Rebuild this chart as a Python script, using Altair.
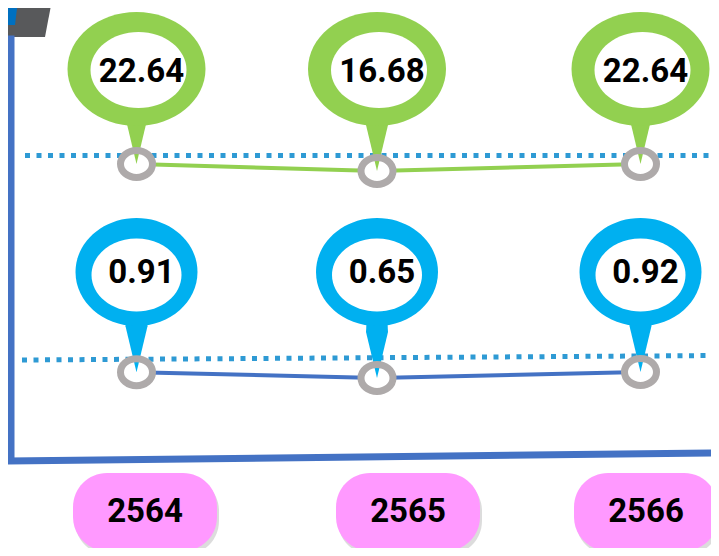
import altair as alt
import pandas as pd

# ---- data ----
years = [2564, 2565, 2566]
year_labels = ["2564", "2565", "2566"]
green_values = [22.64, 16.68, 22.64]
blue_values = [0.91, 0.65, 0.92]

df = pd.DataFrame({"year": years, "label": year_labels,
                   "green": green_values, "blue": blue_values})
one = pd.DataFrame({"a": [1]})

# ---- styles ----
GREEN = "#92D050"
PIN_BLUE = "#00B0F0"
LINE_BLUE = "#4472C4"
DOT_BLUE = "#2E9AD4"
RING = "#AEAAAA"
PINK = "#FF99FF"
FONT = "Roboto"
U = 100.0            # px per path unit
BIG = (2 * U) ** 2    # symbol size giving U px per unit


def r(v):
    return round(v / U, 4)


def ellipse_path(w, h, cx=0.0, cy=0.0):
    k = 0.5522847
    rx, ry = w / 2, h / 2
    pts = [
        ("M", [(cx + rx, cy)]),
        ("C", [(cx + rx, cy + k * ry), (cx + k * rx, cy + ry), (cx, cy + ry)]),
        ("C", [(cx - k * rx, cy + ry), (cx - rx, cy + k * ry), (cx - rx, cy)]),
        ("C", [(cx - rx, cy - k * ry), (cx - k * rx, cy - ry), (cx, cy - ry)]),
        ("C", [(cx + k * rx, cy - ry), (cx + rx, cy - k * ry), (cx + rx, cy)]),
    ]
    s = ""
    for cmd, ps in pts:
        s += cmd + " " + " ".join(f"{r(x)} {r(y)}" for x, y in ps) + " "
    return s + "Z"


def round_rect_path(w, h, rad, cx=0.0, cy=0.0):
    k = 0.5522847
    x0, x1 = cx - w / 2, cx + w / 2
    y0, y1 = cy - h / 2, cy + h / 2
    c = rad * (1 - k)
    segs = [
        f"M {r(x0 + rad)} {r(y0)}",
        f"L {r(x1 - rad)} {r(y0)}",
        f"C {r(x1 - c)} {r(y0)} {r(x1)} {r(y0 + c)} {r(x1)} {r(y0 + rad)}",
        f"L {r(x1)} {r(y1 - rad)}",
        f"C {r(x1)} {r(y1 - c)} {r(x1 - c)} {r(y1)} {r(x1 - rad)} {r(y1)}",
        f"L {r(x0 + rad)} {r(y1)}",
        f"C {r(x0 + c)} {r(y1)} {r(x0)} {r(y1 - c)} {r(x0)} {r(y1 - rad)}",
        f"L {r(x0)} {r(y0 + rad)}",
        f"C {r(x0)} {r(y0 + c)} {r(x0 + c)} {r(y0)} {r(x0 + rad)} {r(y0)}",
        "Z",
    ]
    return " ".join(segs)


def poly_path(pts):
    return "M " + " L ".join(f"{r(x)} {r(y)}" for x, y in pts) + " Z"


tail_path = poly_path([(0, 0), (-11, -46), (-8, -100), (8, -100), (11, -46)])
ring_path = ellipse_path(32, 27)

x_pt = alt.Scale(domain=years, range=[128.5, 369, 632.5], zero=False, nice=False)
x_lab = alt.Scale(domain=years, range=[137, 400, 638], zero=False, nice=False)
y_green = alt.Scale(domain=[16.68, 22.64], range=[163, 156], zero=False, nice=False)
y_blue = alt.Scale(domain=[0.65, 0.92], range=[370, 364], zero=False, nice=False)

X = alt.X("year:Q", scale=x_pt, axis=None)
XL = alt.X("year:Q", scale=x_lab, axis=None)
YG = alt.Y("green:Q", scale=y_green, axis=None)
YB = alt.Y("blue:Q", scale=y_blue, axis=None)

base = alt.Chart(df)
deco = alt.Chart(one)


def sym(chart, path, fill, **enc):
    return chart.mark_point(shape=path, filled=True, fill=fill, opacity=1,
                            strokeWidth=0, size=BIG).encode(**enc)


layers = []

# top-left decoration
layers.append(sym(deco, poly_path([(-8, -8), (44, -8), (37, 29), (-8, 29)]), "#58595B",
                  x=alt.value(0), y=alt.value(0)))
layers.append(sym(deco, poly_path([(-8, -8), (10, -8), (7, 17), (-8, 17)]), "#0070C0",
                  x=alt.value(0), y=alt.value(0)))

# frame lines
layers.append(deco.mark_rule(color=LINE_BLUE, strokeWidth=7, strokeCap="square").encode(
    x=alt.value(3), x2=alt.value(3), y=alt.value(31), y2=alt.value(452)))
layers.append(deco.mark_rule(color=LINE_BLUE, strokeWidth=7).encode(
    x=alt.value(-1), x2=alt.value(711), y=alt.value(453), y2=alt.value(445)))

# dotted guide lines
layers.append(deco.mark_rule(color=DOT_BLUE, strokeWidth=5, strokeDash=[5, 6.5]).encode(
    x=alt.value(17), x2=alt.value(711), y=alt.value(147.5), y2=alt.value(147.5)))
layers.append(deco.mark_rule(color=DOT_BLUE, strokeWidth=5, strokeDash=[5, 6.5]).encode(
    x=alt.value(14), x2=alt.value(711), y=alt.value(352), y2=alt.value(347.5)))

# series lines
layers.append(base.mark_line(color=GREEN, strokeWidth=4).encode(x=X, y=YG))
layers.append(base.mark_line(color=LINE_BLUE, strokeWidth=4).encode(x=X, y=YB))

for Y in (YG, YB):
    layers.append(sym(base, ring_path, "white", x=X, y=Y))

# pin tails
layers.append(sym(base, tail_path, GREEN, x=X, y=YG))
layers.append(sym(base, tail_path, PIN_BLUE, x=X, y=YB))

# ring strokes
for Y in (YG, YB):
    layers.append(base.mark_point(shape=ring_path, filled=False, stroke=RING, opacity=1,
                                  strokeWidth=7, size=BIG).encode(x=X, y=Y))

# pin heads
layers.append(sym(base, ellipse_path(138, 114), GREEN, x=X, y=alt.value(61)))
layers.append(sym(base, ellipse_path(96, 76, 2, 1), "white", x=X, y=alt.value(61)))
layers.append(sym(base, ellipse_path(122, 108), PIN_BLUE, x=X, y=alt.value(264)))
layers.append(sym(base, ellipse_path(90, 73, 0, 3), "white", x=X, y=alt.value(264)))

# value texts
layers.append(base.mark_text(font=FONT, fontSize=33, fontWeight="bold", color="black",
                             baseline="alphabetic", dx=5).encode(
    x=X, y=alt.value(74), text=alt.Text("green:Q", format=".2f")))
layers.append(base.mark_text(font=FONT, fontSize=33, fontWeight="bold", color="black",
                             baseline="alphabetic", dx=5).encode(
    x=X, y=alt.value(275), text=alt.Text("blue:Q", format=".2f")))

# year label boxes
layers.append(base.mark_point(shape=round_rect_path(144, 78, 34, 2, 4), filled=True,
                              fill="#9A9A9A", opacity=0.35, strokeWidth=0, size=BIG).encode(
    x=XL, y=alt.value(504)))
layers.append(sym(base, round_rect_path(144, 78, 34), PINK, x=XL, y=alt.value(504)))
layers.append(base.mark_text(font=FONT, fontSize=33, fontWeight="bold", color="black",
                             baseline="alphabetic").encode(
    x=XL, y=alt.value(514), text="label:N"))

chart = alt.layer(*layers).resolve_scale(x="independent", y="independent").properties(
    width=703, height=540, padding=0, autosize=alt.AutoSizeParams(type="none"),
    background="white",
).configure_view(strokeWidth=0)

chart.save("out.html", embed_options={"renderer": "svg", "actions": False})
